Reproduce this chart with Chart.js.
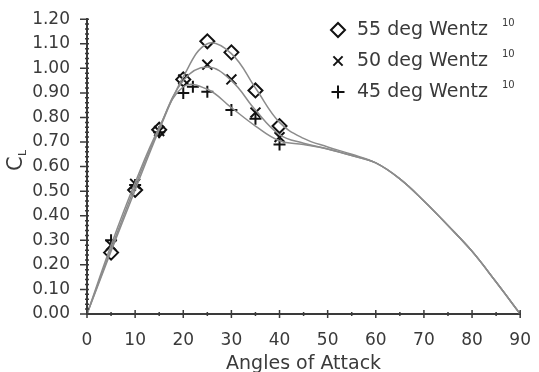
<!DOCTYPE html>
<html>
<head>
<meta charset="utf-8">
<script src="https://cdn.jsdelivr.net/npm/chart.js@4.4.0/dist/chart.umd.min.js"></script>
<style>
  html, body { margin: 0; padding: 0; background: #fff; }
  #wrap { width: 539px; height: 372px; }
</style>
</head>
<body>
<div id="wrap"><canvas id="cl"></canvas></div>
<script>
// fitted curves, sampled every 5 deg
var angles = [0, 5, 10, 15, 20, 25, 30, 35, 40, 45, 50, 55, 60, 65, 70, 75, 80, 85, 90];
var fit55 = [0, 0.255, 0.505, 0.75, 0.965, 1.10, 1.06, 0.92, 0.78, 0.715, 0.68, 0.65, 0.615, 0.55, 0.46, 0.36, 0.255, 0.13, 0];
var fit50 = [0, 0.265, 0.52, 0.755, 0.95, 1.005, 0.95, 0.83, 0.73, 0.695, 0.672, 0.645, 0.615, 0.55, 0.46, 0.36, 0.255, 0.13, 0];
var fit45 = [0, 0.28, 0.535, 0.76, 0.925, 0.915, 0.84, 0.765, 0.705, 0.69, 0.672, 0.645, 0.615, 0.55, 0.46, 0.36, 0.255, 0.13, 0];

// Wentz measurements
var aoa55 = [5, 10, 15, 20, 25, 30, 35, 40];
var cl55 = [0.25, 0.505, 0.75, 0.955, 1.11, 1.065, 0.91, 0.765];
var aoa50 = [5, 10, 15, 20, 25, 30, 35, 40];
var cl50 = [0.28, 0.53, 0.745, 0.955, 1.015, 0.955, 0.82, 0.72];
var aoa45 = [5, 10, 15, 20, 22, 25, 30, 35, 40];
var cl45 = [0.30, 0.525, 0.74, 0.90, 0.925, 0.905, 0.83, 0.795, 0.69];

var xTicks = [0, 10, 20, 30, 40, 50, 60, 70, 80, 90];
var legendLabels = ['55 deg Wentz', '50 deg Wentz', '45 deg Wentz'];

var FONT = '"DejaVu Sans", sans-serif';
var INK = '#3a3a3a';

function pts(xs, ys) {
  return xs.map(function (x, i) { return { x: x, y: ys[i] }; });
}
function curve(ys) {
  return {
    data: pts(angles, ys), showLine: true, pointRadius: 0,
    borderColor: '#8c8c8c', borderWidth: 1.5, tension: 0.4
  };
}
function marks(xs, ys, style, r) {
  return {
    data: pts(xs, ys), showLine: false, pointStyle: style, pointRadius: r,
    pointBorderColor: '#111', pointBackgroundColor: 'rgba(0,0,0,0)', pointBorderWidth: 2
  };
}

var extras = {
  id: 'extras',
  afterDraw: function (chart) {
    var c = chart.ctx, xs = chart.scales.x, ys = chart.scales.y;
    var bottom = ys.getPixelForValue(0), left = xs.getPixelForValue(0);
    c.save();
    c.strokeStyle = INK;
    c.lineWidth = 1.5;
    c.beginPath();
    // x ticks: majors every 10, minors at 5s
    for (var v = 0; v <= 90; v += 5) {
      var px = xs.getPixelForValue(v);
      var len = v % 10 === 0 ? 4 : 2;
      c.moveTo(px, bottom - len); c.lineTo(px, bottom + len);
    }
    // y ticks: majors every 0.1, minors every 0.02
    for (var k = 0; k <= 60; k++) {
      var py = ys.getPixelForValue(k * 0.02);
      if (k % 5 === 0) { c.moveTo(left - 7, py); c.lineTo(left + 2, py); }
      else { c.moveTo(left - 2, py); c.lineTo(left + 2, py); }
    }
    c.stroke();

    // y title C_L
    c.fillStyle = INK;
    c.translate(22, 163);
    c.rotate(-Math.PI / 2);
    c.font = '21px ' + FONT;
    c.textBaseline = 'alphabetic';
    c.fillText('C', -8, 0);
    c.font = '11px ' + FONT;
    c.fillText('L', 7, 4);
    c.restore();

    // legend
    c.save();
    var styles = ['rectRot', 'crossRot', 'cross'];
    var radii = [7, 6.5, 6.5];
    for (var i = 0; i < 3; i++) {
      var yy = 30 + i * 31;
      c.fillStyle = '#fff';
      c.strokeStyle = '#111';
      c.lineWidth = 2;
      Chart.helpers.drawPoint(c, { pointStyle: styles[i], radius: radii[i], borderWidth: 2 }, 338, yy);
      c.fillStyle = INK;
      c.font = '19px ' + FONT;
      c.textBaseline = 'middle';
      c.fillText(legendLabels[i], 357, yy);
      c.font = '10px ' + FONT;
      c.fillText('10', 502, yy - 7);
    }
    c.restore();
  }
};

new Chart(document.getElementById('cl'), {
  type: 'scatter',
  data: {
    datasets: [
      curve(fit55), curve(fit50), curve(fit45),
      marks(aoa55, cl55, 'rectRot', 7),
      marks(aoa50, cl50, 'crossRot', 7),
      marks(aoa45, cl45, 'cross', 6)
    ]
  },
  options: {
    responsive: true,
    maintainAspectRatio: false,
    animation: false,
    layout: { padding: { top: 19, right: 16, left: 0, bottom: 0 } },
    plugins: { legend: { display: false }, tooltip: { enabled: false } },
    scales: {
      x: {
        type: 'linear', min: 0, max: 90,
        afterBuildTicks: function (s) { s.ticks = xTicks.map(function (v) { return { value: v }; }); },
        afterFit: function (s) { s.height = 58; },
        grid: { display: false },
        border: { display: true, color: INK, width: 2 },
        ticks: { color: INK, font: { family: FONT, size: 17 }, padding: 8 },
        title: { display: true, text: 'Angles of Attack', color: INK, font: { family: FONT, size: 19 }, padding: { top: 4, bottom: -3 } }
      },
      y: {
        min: 0, max: 1.2,
        afterFit: function (s) { s.width = 87; },
        grid: { display: false },
        border: { display: true, color: INK, width: 2 },
        ticks: {
          stepSize: 0.1, color: INK, font: { family: FONT, size: 17 }, padding: 9,
          callback: function (v) { return v.toFixed(2); }
        }
      }
    }
  },
  plugins: [extras]
});
</script>
</body>
</html>
